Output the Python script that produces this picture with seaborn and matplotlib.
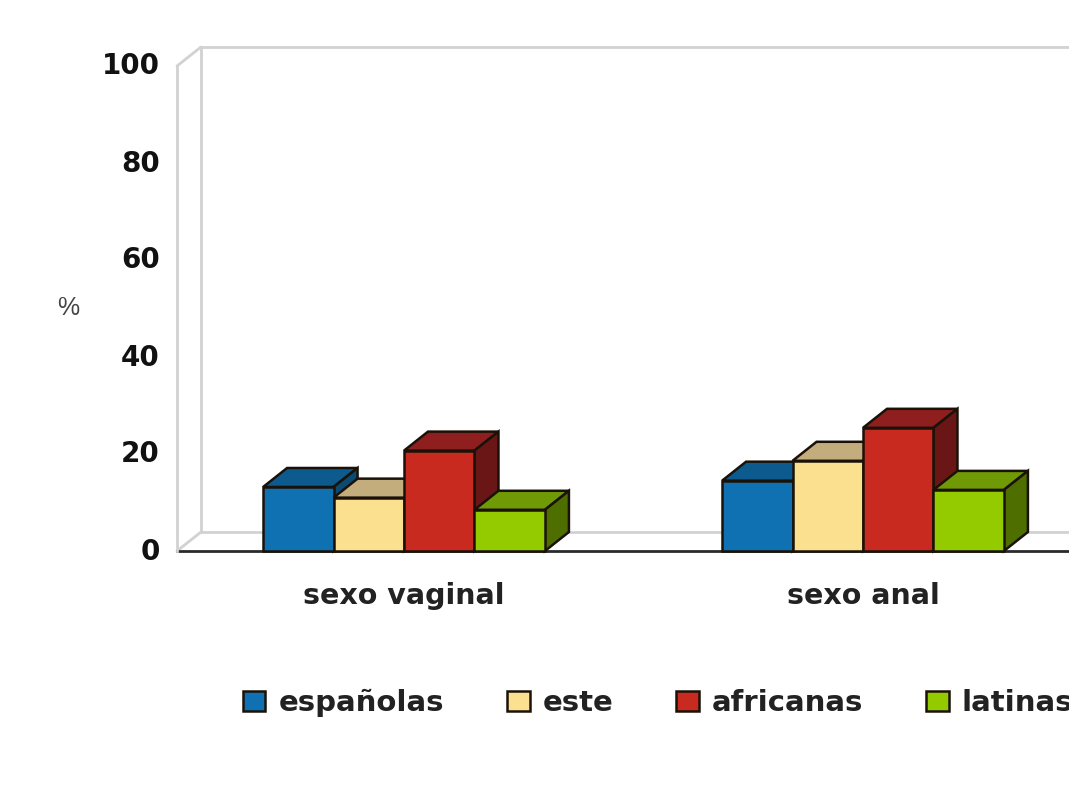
import matplotlib
matplotlib.use("Agg")
import matplotlib.pyplot as plt
from matplotlib.patches import Polygon
from matplotlib.transforms import ScaledTranslation
import pandas as pd
import seaborn as sns

categories = ["sexo vaginal", "sexo anal"]
groups = ["españolas", "este", "africanas", "latinas"]
espanolas = [13.2, 14.5]
este = [11.0, 18.6]
africanas = [20.7, 25.4]
latinas = [8.5, 12.6]
y_ticks = [0, 20, 40, 60, 80, 100]

front_colors = ["#0f70b2", "#fbe08f", "#c92a20", "#93cb00"]
top_colors = ["#0d5a8e", "#c4ad7d", "#8e1f1e", "#6f9a05"]
side_colors = ["#0b4a75", "#a8946a", "#6b1616", "#4e6e00"]
edge_color = "#1a1208"
wall_color = "#d2d2d2"

rows = []
for g, vals in zip(groups, [espanolas, este, africanas, latinas]):
    for c, v in zip(categories, vals):
        rows.append({"categoria": c, "grupo": g, "valor": v})
df = pd.DataFrame(rows)

sns.set_theme(style="white")
fig = plt.figure(figsize=(10.69, 7.95), dpi=100, facecolor="white")
W, H = 1069, 795
ax = fig.add_axes([177 / W, (795 - 551) / H, (W - 177) / W, 485 / H])

sns.barplot(data=df, x="categoria", y="valor", hue="grupo", order=categories,
            hue_order=groups, palette=front_colors, saturation=1, width=0.614,
            gap=0, edgecolor=edge_color, linewidth=1.8, ax=ax, legend=True)

ax.set_xlim(-0.4946, 1.4488)
ax.set_ylim(0, 100)

# depth of the 3D look, in data units (24 px right, 19 px up)
dx = 24 / 459
dy = 19 / 4.85

# back wall and floor
line_kw = dict(color=wall_color, lw=2, clip_on=False, zorder=1)
x0, x1 = ax.get_xlim()
ax.plot([x0 + dx, x0 + dx], [dy, 100 + dy], **line_kw)
ax.plot([x0 + dx, x1], [100 + dy, 100 + dy], **line_kw)
ax.plot([x0 + dx, x1], [dy, dy], **line_kw)
ax.plot([x0, x0 + dx], [100, 100 + dy], **line_kw)
ax.plot([x0, x0 + dx], [0, dy], **line_kw)

# 3D faces derived from each drawn bar
for k, container in enumerate(ax.containers):
    z = 3 + k
    for bar in container:
        bx0 = bar.get_x()
        bx1 = bx0 + bar.get_width()
        h = bar.get_height()
        bar.set_zorder(z + 0.5)
        bar.set_clip_on(False)
        top = [(bx0, h), (bx1, h), (bx1 + dx, h + dy), (bx0 + dx, h + dy)]
        side = [(bx1, 0), (bx1 + dx, dy), (bx1 + dx, h + dy), (bx1, h)]
        ax.add_patch(Polygon(top, closed=True, facecolor=top_colors[k],
                             edgecolor=edge_color, lw=1.8, zorder=z, clip_on=False))
        ax.add_patch(Polygon(side, closed=True, facecolor=side_colors[k],
                             edgecolor=edge_color, lw=1.8, zorder=z, clip_on=False))

for s in ["top", "right"]:
    ax.spines[s].set_visible(False)
ax.spines["left"].set_color(wall_color)
ax.spines["left"].set_linewidth(2)
ax.spines["bottom"].set_color("#2a2a2a")
ax.spines["bottom"].set_linewidth(2)
ax.spines["bottom"].set_zorder(2)

ax.set_xlabel("")
ax.set_ylabel("%", rotation=0, fontsize=18, color="#444444",
              family="Liberation Sans", va="center", ha="center")
ax.yaxis.set_label_coords((68 - 177) / 892, (551 - 308) / 485)

ax.set_yticks(y_ticks)
ax.tick_params(axis="y", length=0, pad=12.5)
ax.tick_params(axis="x", length=0, pad=22)
ax.set_xticks([0, 1])
ax.set_xticklabels(categories)
ax.set_xticks([0.5], minor=True)
ax.tick_params(axis="x", which="minor", length=4, width=1.2, color="#2a2a2a")
shift_up = ScaledTranslation(0, 2.5 / 100, fig.dpi_scale_trans)
for t in ax.get_yticklabels():
    t.set_fontsize(20)
    t.set_fontweight("bold")
    t.set_color("#111111")
    t.set_family("DejaVu Sans")
    t.set_transform(t.get_transform() + shift_up)
for t in ax.get_xticklabels():
    t.set_fontsize(20.5)
    t.set_fontweight("bold")
    t.set_color("#222222")
    t.set_family("DejaVu Sans")

sns.move_legend(ax, loc="center left", bbox_to_anchor=(231 / W, (795 - 703) / H),
                bbox_transform=fig.transFigure, ncol=4, title=None, frameon=False,
                columnspacing=2.15, handlelength=0.78, handleheight=0.7,
                handletextpad=0.45, borderaxespad=0,
                prop={"family": "DejaVu Sans", "weight": "bold", "size": 21})
for t in ax.get_legend().get_texts():
    t.set_color("#222222")

fig.savefig("out.png", dpi=100, facecolor="white")
